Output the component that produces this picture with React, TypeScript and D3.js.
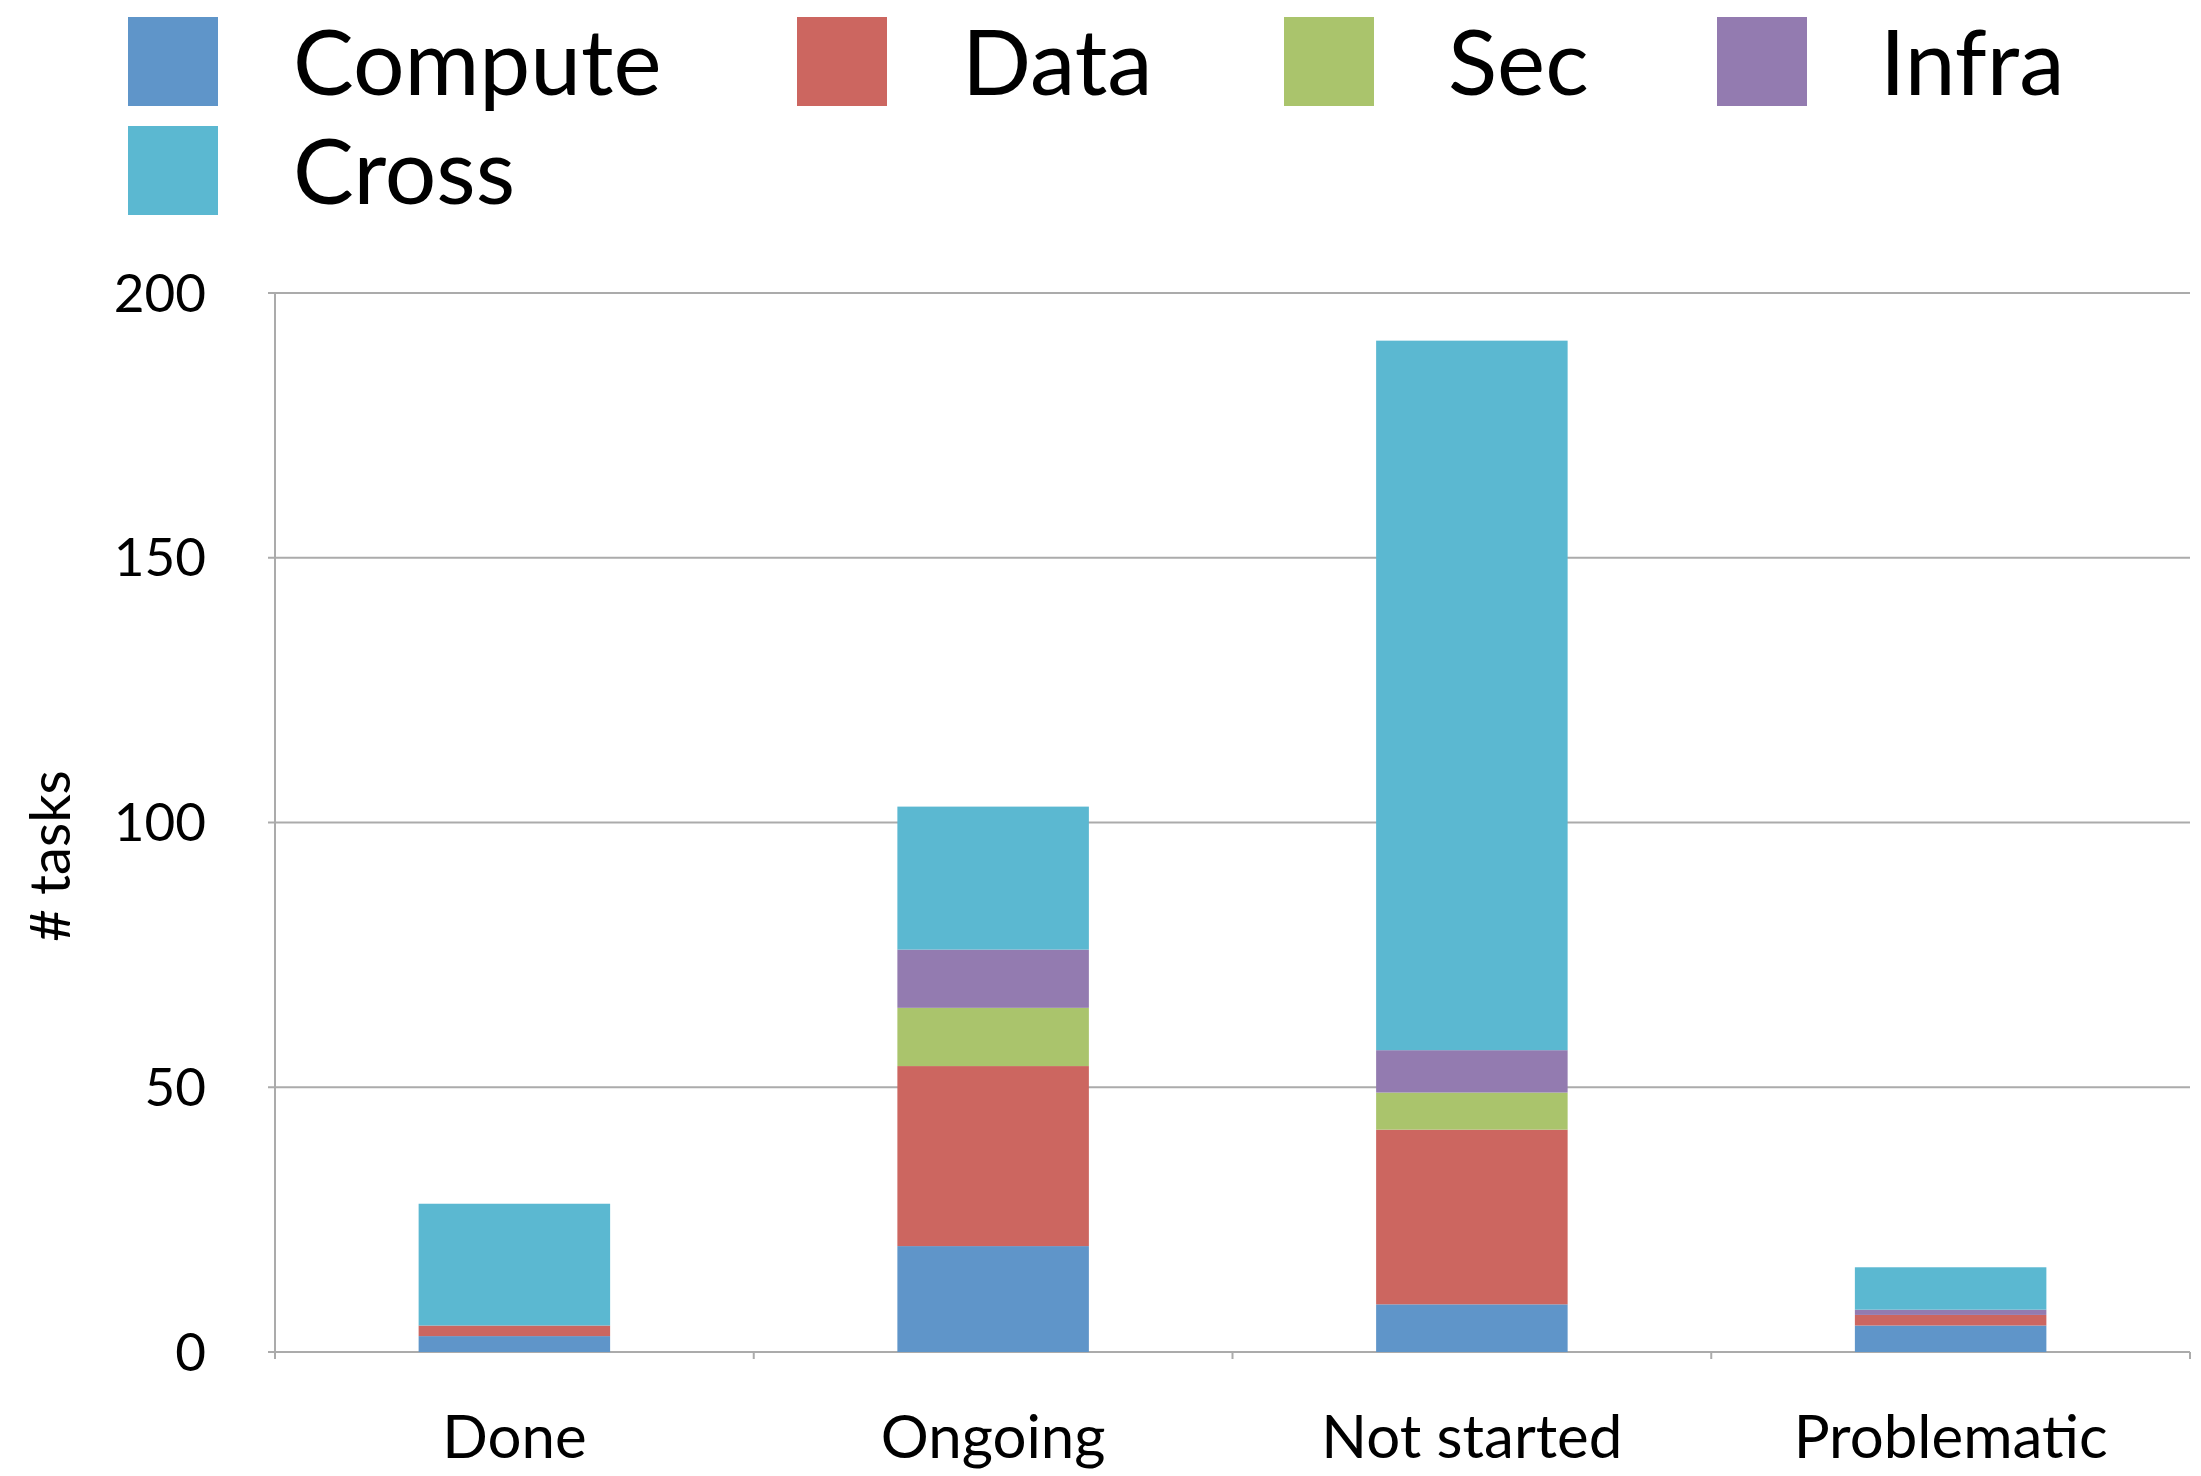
import React from 'react';
import * as d3 from 'd3';

const categories = ['Done', 'Ongoing', 'Not started', 'Problematic'];
const seriesNames = ['Compute', 'Data', 'Sec', 'Infra', 'Cross'];
const compute = [3, 20, 9, 5];
const dataVals = [2, 34, 33, 2];
const sec = [0, 11, 7, 0];
const infra = [0, 11, 8, 1];
const cross = [23, 27, 134, 8];
const yTicks = [0, 50, 100, 150, 200];
const colors = ['#5f95c9', '#cc6660', '#aac46c', '#937bb0', '#5bb8d1'];

const W = 2201;
const H = 1476;
const FONT = 'Lato, "Open Sans", sans-serif';

export default function App() {
  const margin = { left: 275, right: 11, top: 293, bottom: 124 };

  const x = d3.scaleBand()
    .domain(categories)
    .range([margin.left, W - margin.right])
    .paddingInner(0.6)
    .paddingOuter(0.3);

  // outer band edges for the x tick marks
  const step = (W - margin.right - margin.left) / categories.length;

  const y = d3.scaleLinear()
    .domain([0, 200])
    .range([H - margin.bottom, margin.top]);

  const rows = categories.map((c, i) => ({
    cat: c,
    Compute: compute[i],
    Data: dataVals[i],
    Sec: sec[i],
    Infra: infra[i],
    Cross: cross[i],
  }));

  const stacked = d3.stack<any>().keys(seriesNames)(rows);
  const color = d3.scaleOrdinal<string>().domain(seriesNames).range(colors);

  const legendPos = [
    { sx: 128, tx: 293, y: 17 },
    { sx: 797, tx: 962, y: 17 },
    { sx: 1284, tx: 1448, y: 17 },
    { sx: 1717, tx: 1880, y: 17 },
    { sx: 128, tx: 293, y: 126 },
  ];

  return (
    <svg width={W} height={H} style={{ position: 'absolute', left: 0, top: 0 }} fontFamily={FONT}>
      <rect width={W} height={H} fill="#fff" />
      {/* legend */}
      {seriesNames.map((s, i) => (
        <g key={s}>
          <rect x={legendPos[i].sx} y={legendPos[i].y} width={90} height={89} fill={color(s)} />
          <text x={legendPos[i].tx} y={legendPos[i].y + 78} fontSize={91} fill="#000">{s}</text>
        </g>
      ))}

      {/* grid lines */}
      {yTicks.map(t => (
        <g key={t}>
          <line x1={margin.left - 7} x2={W - margin.right} y1={y(t)} y2={y(t)} stroke="#ababab" strokeWidth={2} />
          <text x={margin.left - 69} y={y(t)} dy="0.35em" textAnchor="end" fontSize={53} fill="#000">{t}</text>
        </g>
      ))}

      {/* axes */}
      <line x1={margin.left} x2={margin.left} y1={y(200)} y2={y(0) + 6} stroke="#ababab" strokeWidth={2} />
      {d3.range(categories.length + 1).map(i => (
        <line key={i} x1={margin.left + i * step} x2={margin.left + i * step} y1={y(0)} y2={y(0) + 7} stroke="#ababab" strokeWidth={2} />
      ))}

      {/* bars */}
      {stacked.map(layer => (
        <g key={layer.key} fill={color(layer.key)}>
          {layer.map((d, i) => (
            d[1] - d[0] > 0 ? (
              <rect
                key={i}
                x={x(categories[i])}
                width={x.bandwidth()}
                y={y(d[1])}
                height={y(d[0]) - y(d[1])}
              />
            ) : null
          ))}
        </g>
      ))}

      {/* category labels */}
      {categories.map(c => (
        <text key={c} x={(x(c) as number) + x.bandwidth() / 2} y={1458} textAnchor="middle" fontSize={60} fill="#000">{c}</text>
      ))}

      {/* y label */}
      <text transform={`translate(70, 856) rotate(-90)`} textAnchor="middle" fontSize={56} fill="#000"># tasks</text>
    </svg>
  );
}
